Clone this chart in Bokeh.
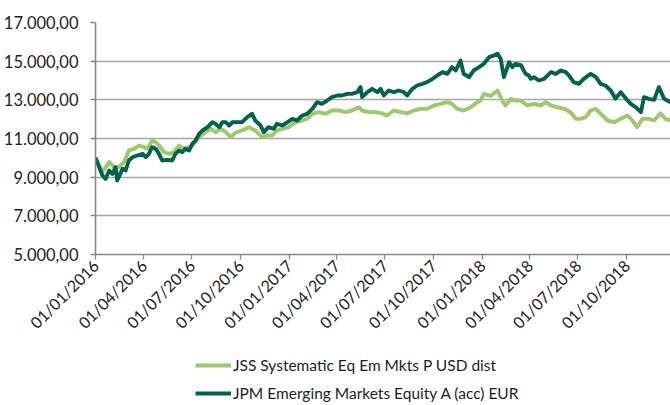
import pandas as pd
from bokeh.plotting import figure
from bokeh.layouts import column
from bokeh.models import FixedTicker, Legend, LegendItem, ColumnDataSource, Range1d
from bokeh.embed import file_html
from bokeh.resources import INLINE
from math import pi

series_names = ["JSS Systematic Eq Em Mkts P USD dist",
                "JPM Emerging Markets Equity A (acc) EUR"]

jss_dates = [
    "2016-01-01", "2016-01-14", "2016-01-27", "2016-02-05", "2016-02-14", "2016-02-24",
    "2016-03-04", "2016-03-14", "2016-03-23", "2016-04-02", "2016-04-08", "2016-04-17",
    "2016-04-24", "2016-04-30", "2016-05-10", "2016-05-19", "2016-05-28", "2016-06-07",
    "2016-06-16", "2016-06-26", "2016-07-02", "2016-07-15", "2016-07-27", "2016-08-06",
    "2016-08-15", "2016-08-25", "2016-09-03", "2016-09-13", "2016-09-22", "2016-10-04",
    "2016-10-17", "2016-10-29", "2016-11-11", "2016-11-20", "2016-11-30", "2016-12-09",
    "2016-12-19", "2016-12-31", "2017-01-13", "2017-01-26", "2017-02-04", "2017-02-14",
    "2017-02-26", "2017-03-11", "2017-03-23", "2017-04-05", "2017-04-18", "2017-04-30",
    "2017-05-13", "2017-05-19", "2017-06-01", "2017-06-13", "2017-06-26", "2017-07-05",
    "2017-07-18", "2017-07-31", "2017-08-12", "2017-08-25", "2017-09-06", "2017-09-19",
    "2017-10-02", "2017-10-14", "2017-10-27", "2017-11-05", "2017-11-15", "2017-11-27",
    "2017-12-10", "2017-12-23", "2017-12-29", "2018-01-04", "2018-01-17", "2018-01-30",
    "2018-02-08", "2018-02-14", "2018-02-24", "2018-03-05", "2018-03-15", "2018-03-27",
    "2018-04-09", "2018-04-21", "2018-05-01", "2018-05-11", "2018-05-23", "2018-06-05",
    "2018-06-17", "2018-06-27", "2018-07-06", "2018-07-16", "2018-07-25", "2018-08-04",
    "2018-08-13", "2018-08-26", "2018-09-07", "2018-09-20", "2018-10-03", "2018-10-12",
    "2018-10-21", "2018-10-31", "2018-11-12", "2018-11-22", "2018-12-04", "2018-12-13",
    "2018-12-23",
]
jss_values = [
    10000, 9258, 9776, 9516, 9516, 9776,
    10380, 10465, 10638, 10550, 10465, 10897,
    10810, 10638, 10293, 10207, 10293, 10638,
    10465, 10550, 10638, 11069, 11328, 11500,
    11328, 11500, 11328, 11069, 11300, 11414,
    11586, 11414, 11069, 11155, 11155, 11414,
    11500, 11586, 11845, 11931, 12017, 12276,
    12362, 12276, 12448, 12448, 12362, 12448,
    12621, 12448, 12362, 12362, 12300, 12190,
    12448, 12362, 12300, 12448, 12534, 12534,
    12707, 12793, 12879, 12793, 12534, 12448,
    12621, 12879, 12966, 13310, 13200, 13483,
    12966, 12707, 13052, 12966, 12966, 12707,
    12793, 12707, 12879, 12707, 12621, 12534,
    12362, 12017, 12017, 12103, 12448, 12534,
    12276, 11931, 11845, 12017, 12190, 11931,
    11586, 12017, 12017, 11931, 12300, 12017,
    11931,
]

jpm_dates = [
    "2016-01-01", "2016-01-08", "2016-01-14", "2016-01-20", "2016-01-27", "2016-02-02",
    "2016-02-08", "2016-02-11", "2016-02-14", "2016-02-21", "2016-02-27", "2016-03-04",
    "2016-03-11", "2016-03-20", "2016-03-30", "2016-04-05", "2016-04-11", "2016-04-17",
    "2016-04-24", "2016-04-30", "2016-05-06", "2016-05-16", "2016-05-25", "2016-05-31",
    "2016-06-07", "2016-06-13", "2016-06-19", "2016-06-26", "2016-07-02", "2016-07-08",
    "2016-07-15", "2016-07-21", "2016-07-31", "2016-08-09", "2016-08-15", "2016-08-22",
    "2016-08-28", "2016-09-03", "2016-09-10", "2016-09-16", "2016-09-22", "2016-10-04",
    "2016-10-14", "2016-10-23", "2016-10-29", "2016-11-08", "2016-11-14", "2016-11-23",
    "2016-12-03", "2016-12-09", "2016-12-19", "2016-12-29", "2017-01-07", "2017-01-16",
    "2017-01-26", "2017-02-04", "2017-02-14", "2017-02-23", "2017-03-04", "2017-03-14",
    "2017-03-23", "2017-04-02", "2017-04-11", "2017-04-21", "2017-04-30", "2017-05-10",
    "2017-05-16", "2017-05-19", "2017-05-29", "2017-06-07", "2017-06-17", "2017-06-23",
    "2017-06-29", "2017-07-08", "2017-07-18", "2017-07-27", "2017-08-06", "2017-08-12",
    "2017-08-22", "2017-08-31", "2017-09-10", "2017-09-19", "2017-09-29", "2017-10-08",
    "2017-10-18", "2017-10-27", "2017-11-05", "2017-11-12", "2017-11-21", "2017-11-27",
    "2017-12-07", "2017-12-16", "2017-12-26", "2018-01-04", "2018-01-14", "2018-01-23",
    "2018-01-30", "2018-02-05", "2018-02-11", "2018-02-21", "2018-02-27", "2018-03-05",
    "2018-03-15", "2018-03-24", "2018-03-30", "2018-04-03", "2018-04-09", "2018-04-18",
    "2018-04-28", "2018-05-11", "2018-05-20", "2018-05-30", "2018-06-08", "2018-06-14",
    "2018-06-23", "2018-07-03", "2018-07-12", "2018-07-25", "2018-08-04", "2018-08-13",
    "2018-08-22", "2018-09-01", "2018-09-10", "2018-09-20", "2018-09-30", "2018-10-09",
    "2018-10-18", "2018-10-28", "2018-11-03", "2018-11-12", "2018-11-22", "2018-12-01",
    "2018-12-11", "2018-12-23",
]
jpm_values = [
    10000, 9516, 9087, 8913, 9345, 9172,
    9516, 8828, 9000, 9430, 9345, 9862,
    10033, 10120, 10207, 10033, 10207, 10550,
    10465, 10207, 9862, 9897, 9862, 10207,
    10380, 10293, 10465, 10380, 10724, 10897,
    11241, 11414, 11586, 11845, 11759, 11586,
    11845, 11845, 11672, 11845, 11845, 11845,
    12103, 12276, 11931, 11672, 11328, 11586,
    11500, 11759, 11672, 11845, 12017, 11931,
    12190, 12276, 12534, 12879, 12793, 12966,
    13138, 13224, 13224, 13310, 13310, 13397,
    13655, 13138, 13397, 13569, 13397, 13569,
    13224, 13483, 13400, 13483, 13400, 13224,
    13569, 13741, 13828, 13914, 14086, 14259,
    14431, 14345, 14690, 14517, 15034, 14345,
    14172, 14517, 14690, 14862, 15207, 15293,
    15380, 15120, 14172, 14948, 14690, 14862,
    14800, 14345, 14259, 14086, 14172, 14000,
    14086, 14431, 14345, 14517, 14431, 14259,
    13914, 13828, 14086, 14345, 14172, 13828,
    13741, 13483, 13052, 13397, 13052, 12793,
    12621, 12362, 13138, 13052, 13000, 13655,
    13052, 12879,
]

x_tick_dates = ["2016-01-01", "2016-04-01", "2016-07-01", "2016-10-01",
                "2017-01-01", "2017-04-01", "2017-07-01", "2017-10-01",
                "2018-01-01", "2018-04-01", "2018-07-01", "2018-10-01"]
x_tick_labels = ["01/01/2016", "01/04/2016", "01/07/2016", "01/10/2016",
                 "01/01/2017", "01/04/2017", "01/07/2017", "01/10/2017",
                 "01/01/2018", "01/04/2018", "01/07/2018", "01/10/2018"]
y_ticks = [5000, 7000, 9000, 11000, 13000, 15000, 17000]
y_tick_labels = ["5.000,00", "7.000,00", "9.000,00", "11.000,00",
                 "13.000,00", "15.000,00", "17.000,00"]

light_green = "#9cc96b"
dark_green = "#00634a"
grid_gray = "#a6a6a6"
axis_gray = "#868686"
text_color = "#1e1e1e"
font = "Lato"
colors = [light_green, dark_green]

jss_src = ColumnDataSource(dict(x=pd.to_datetime(jss_dates), y=jss_values))
jpm_src = ColumnDataSource(dict(x=pd.to_datetime(jpm_dates), y=jpm_values))
sources = [jss_src, jpm_src]

x_tick_ms = [int(pd.Timestamp(d).value // 10**6) for d in x_tick_dates]
x_start = pd.Timestamp(jss_dates[0])
x_end = pd.Timestamp(jss_dates[-1])

# ---- main chart ----
p = figure(width=670, height=348, x_axis_type="datetime",
           output_backend="svg", toolbar_location=None,
           x_range=Range1d(x_start, x_end),
           y_range=Range1d(y_ticks[0], y_ticks[-1]),
           min_border_left=95, min_border_right=0,
           min_border_top=22, min_border_bottom=94)
p.outline_line_color = None
p.background_fill_color = "white"
p.border_fill_color = "white"

for src, col in zip(sources, colors):
    p.line("x", "y", source=src, line_color=col, line_width=3.9,
           line_join="round")

xa = p.xaxis[0]
xa.ticker = FixedTicker(ticks=x_tick_ms)
xa.major_label_overrides = {t: l for t, l in zip(x_tick_ms, x_tick_labels)}
xa.major_label_orientation = pi / 4
xa.axis_line_color = axis_gray
xa.axis_line_width = 1.6
xa.major_tick_line_color = axis_gray
xa.major_tick_line_width = 1.3
xa.major_tick_out = 5
xa.major_tick_in = 0
xa.minor_tick_line_color = None
xa.major_label_text_font = font
xa.major_label_text_font_size = "16px"
xa.major_label_text_color = text_color
xa.major_label_standoff = 3

ya = p.yaxis[0]
ya.ticker = FixedTicker(ticks=y_ticks)
ya.major_label_overrides = {t: l for t, l in zip(y_ticks, y_tick_labels)}
ya.axis_line_color = axis_gray
ya.axis_line_width = 1.6
ya.major_tick_line_color = axis_gray
ya.major_tick_line_width = 1.3
ya.major_tick_out = 5
ya.major_tick_in = 0
ya.minor_tick_line_color = None
ya.major_label_text_font = font
ya.major_label_text_font_size = "16.5px"
ya.major_label_text_color = text_color
ya.major_label_standoff = 12

p.xgrid.grid_line_color = None
p.ygrid.grid_line_color = grid_gray
p.ygrid.grid_line_width = 1.5

# ---- legend strip below ----
leg = figure(width=670, height=57, output_backend="svg", toolbar_location=None,
             x_range=Range1d(0, 1), y_range=Range1d(0, 1),
             min_border_left=95, min_border_top=7, min_border_right=0,
             min_border_bottom=0, x_axis_location=None, y_axis_location=None)
leg.outline_line_color = None
leg.xgrid.grid_line_color = None
leg.ygrid.grid_line_color = None
leg_items = []
for name, src, col in zip(series_names, sources, colors):
    # same data, outside this strip's range: only the legend swatch shows
    r = leg.line("x", "y", source=src, line_color=col, line_width=3.9)
    leg_items.append(LegendItem(label=name, renderers=[r]))

legend = Legend(items=leg_items, location=(100, 2), orientation="vertical",
                border_line_color=None, background_fill_alpha=0,
                padding=0, margin=0, spacing=8,
                glyph_width=36, glyph_height=20, label_standoff=2,
                label_text_font=font, label_text_font_size="15.5px",
                label_text_color=text_color)
leg.add_layout(legend)

layout = column(p, leg, spacing=0)
open("out.html", "w").write(file_html(layout, INLINE))
